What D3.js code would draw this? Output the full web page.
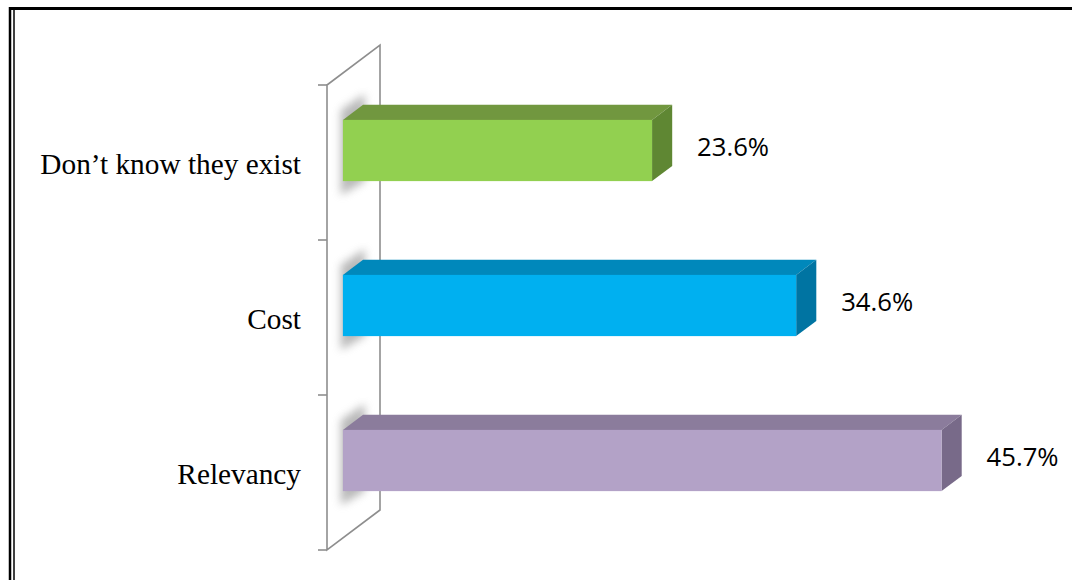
<!DOCTYPE html>
<html><head><meta charset="utf-8">
<script src="https://cdn.jsdelivr.net/npm/d3@7"></script>
<style>html,body{margin:0;padding:0;background:#fff;}svg{display:block;}</style>
</head><body>
<svg id="c" width="1072" height="580"></svg>
<script>
const categories = ["Don\u2019t know they exist", "Cost", "Relevancy"];
const values = [23.6, 34.6, 45.7];
const valueLabels = ["23.6%", "34.6%", "45.7%"];
const frontColors = ["#92D050", "#00B0F0", "#B3A2C7"];
const topColors = ["#71973f", "#0088bb", "#8b7c9c"];
const sideColors = ["#5f8733", "#0074a2", "#786a89"];

(function () {
const svg = d3.select("#c");
const defs = svg.append("defs");
defs.append("filter").attr("id","blur").attr("x","-50%").attr("y","-50%").attr("width","200%").attr("height","200%")
  .append("feGaussianBlur").attr("stdDeviation", 4);

// frame
svg.append("line").attr("x1",9).attr("x2",1072).attr("y1",8.5).attr("y2",8.5).attr("stroke","#000").attr("stroke-width",3);
svg.append("line").attr("x1",10).attr("x2",10).attr("y1",7).attr("y2",580).attr("stroke","#000").attr("stroke-width",2.5);
svg.append("line").attr("x1",14).attr("x2",14).attr("y1",10).attr("y2",580).attr("stroke","#000").attr("stroke-width",1.5);

const wallX = 327, wallTop = 85, wallBottom = 550;
const D = {x: 53, y: -40};
const y = d3.scaleBand().domain(categories).range([wallTop, wallBottom]).padding(0);
const x = d3.scaleLinear().domain([0, 50]).range([0, 655]);
const fo = 0.3, dep = 0.38;
const barH = y.bandwidth() * 0.395;

// wall
const wall = [[wallX, wallTop], [wallX + D.x, wallTop + D.y], [wallX + D.x, wallBottom + D.y], [wallX, wallBottom]];
svg.append("polygon").attr("points", wall.map(p => p.join(",")).join(" "))
  .attr("fill","#fff").attr("stroke","#8e8e8e").attr("stroke-width",1.6).attr("stroke-linejoin","miter");
// ticks
const ticks = categories.map(c => y(c)).concat([wallBottom]);
svg.selectAll(".tick").data(ticks).join("line")
  .attr("x1", wallX - 9).attr("x2", wallX).attr("y1", d => d).attr("y2", d => d)
  .attr("stroke","#8e8e8e").attr("stroke-width",1.6);

const g = svg.append("g");
categories.forEach((c, i) => {
  const cy = y(c) + y.bandwidth() / 2;
  const x0 = wallX + fo * D.x;
  const y0 = cy - barH / 2 + fo * D.y;
  const x1 = x0 + x(values[i]);
  const y1 = y0 + barH;
  const dx = dep * D.x, dy = dep * D.y;
  // shadow on wall
  g.append("polygon").attr("points", [[x0 - 2, y0 - 10], [x0 + 22, y0 - 26], [x0 + 22, y1], [x0 - 2, y1 + 14]].map(p => p.join(",")).join(" "))
    .attr("fill","#8a8a8a").attr("opacity",0.6).attr("filter","url(#blur)");
  // top face
  g.append("polygon").attr("points", [[x0, y0], [x0 + dx, y0 + dy], [x1 + dx, y0 + dy], [x1, y0]].map(p => p.join(",")).join(" "))
    .attr("fill", topColors[i]);
  // side face
  g.append("polygon").attr("points", [[x1, y0], [x1 + dx, y0 + dy], [x1 + dx, y1 + dy], [x1, y1]].map(p => p.join(",")).join(" "))
    .attr("fill", sideColors[i]);
  // front face
  g.append("rect").attr("x", x0).attr("y", y0).attr("width", x1 - x0).attr("height", barH)
    .attr("fill", frontColors[i]);
  // value label
  g.append("text").attr("x", x1 + 45).attr("y", cy - 7)
    .attr("font-family","Open Sans, sans-serif").attr("font-size",25).attr("fill","#000")
    .attr("textLength", 72).attr("lengthAdjust","spacingAndGlyphs").text(valueLabels[i]);
  // category label
  g.append("text").attr("x", 301).attr("y", cy + 11).attr("text-anchor","end")
    .attr("font-family","Liberation Serif, Times New Roman, serif").attr("font-size",29.3).attr("fill","#000").text(c);
});
})();
</script>
</body></html>
